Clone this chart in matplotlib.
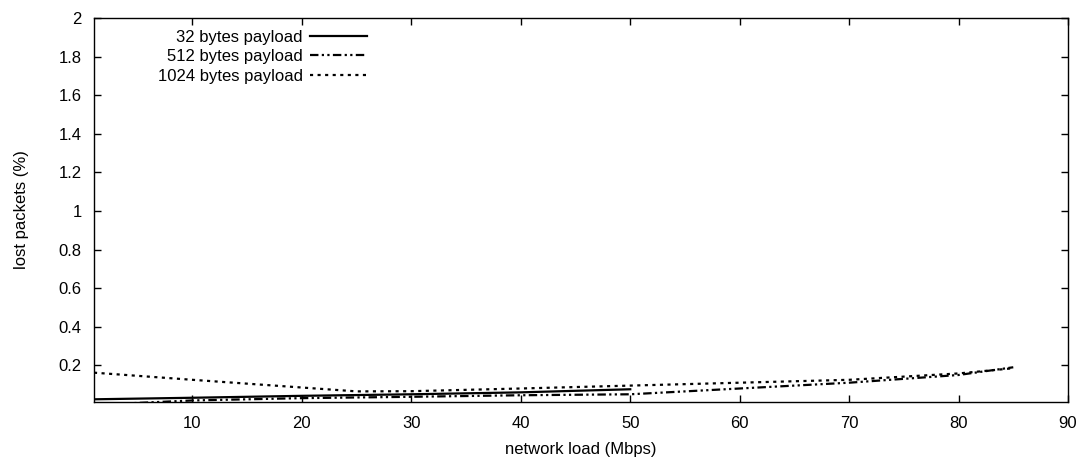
import matplotlib
matplotlib.use("Agg")
import matplotlib.pyplot as plt

plt.rcParams['font.family'] = ['Liberation Sans', 'DejaVu Sans']

# network load (Mbps) and lost packets (%) per payload size
load_32 = [1, 10, 20, 30, 40, 50]
loss_32 = [0.024, 0.032, 0.042, 0.050, 0.060, 0.076]

load_512 = [1, 10, 20, 30, 40, 50, 60, 70, 80, 85]
loss_512 = [-0.005, 0.018, 0.030, 0.037, 0.045, 0.050, 0.080, 0.110, 0.150, 0.190]

load_1024 = [1, 10, 20, 25, 30, 40, 50, 60, 70, 80, 85]
loss_1024 = [0.162, 0.125, 0.085, 0.065, 0.066, 0.080, 0.095, 0.110, 0.125, 0.158, 0.185]

series_labels = ["32 bytes payload", "512 bytes payload", "1024 bytes payload"]
x_ticks = [10, 20, 30, 40, 50, 60, 70, 80, 90]
y_ticks = [0.2, 0.4, 0.6, 0.8, 1.0, 1.2, 1.4, 1.6, 1.8, 2.0]
y_tick_labels = ["0.2", "0.4", "0.6", "0.8", "1", "1.2", "1.4", "1.6", "1.8", "2"]

W, H = 1092, 461
fig = plt.figure(figsize=(W / 100, H / 100), dpi=100)
ax = fig.add_axes([94 / W, 1 - 402 / H, (1068 - 94) / W, (402 - 18) / H])

FS = 12
lw = 1.6
ax.plot(load_32, loss_32, color='black', lw=lw, linestyle='-', label=series_labels[0])
ax.plot(load_512, loss_512, color='black', lw=lw,
        linestyle=(0, (3.8, 1.5, 1.0, 1.5, 1.0, 1.5)), label=series_labels[1])
ax.plot(load_1024, loss_1024, color='black', lw=lw,
        linestyle=(0, (1.4, 2.0)), label=series_labels[2])

ax.set_xlim(1, 90)
ax.set_ylim(0.01, 2)
ax.set_xticks(x_ticks)
ax.set_xticklabels([str(t) for t in x_ticks])
ax.set_yticks(y_ticks)
ax.set_yticklabels(y_tick_labels)

ax.tick_params(axis='both', which='major', direction='in', length=5, width=1,
               top=True, right=True, labelsize=FS, colors='black')
ax.tick_params(axis='x', pad=10)
ax.tick_params(axis='y', pad=9)
for s in ax.spines.values():
    s.set_linewidth(1)
    s.set_color('black')

ax.set_xlabel("network load (Mbps)", fontsize=FS, labelpad=8)
ax.set_ylabel("lost packets (%)", fontsize=FS, labelpad=21)

ax.legend(loc='upper right', bbox_to_anchor=(367 / W, 1 - 30 / H),
          bbox_transform=fig.transFigure, frameon=False, markerfirst=False,
          fontsize=FS, handlelength=3.4, handletextpad=0.45, labelspacing=0.26,
          borderpad=0, borderaxespad=0)

fig.savefig("out.png", dpi=100)
